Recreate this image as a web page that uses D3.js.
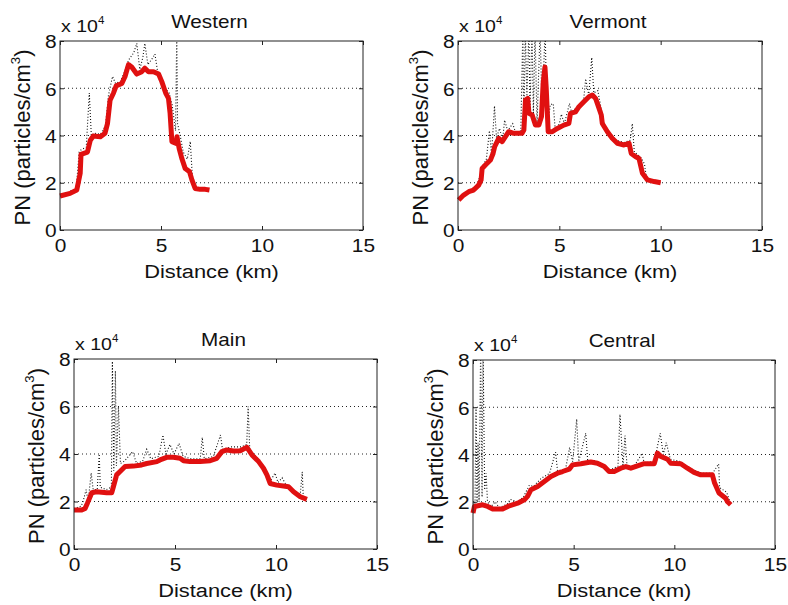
<!DOCTYPE html>
<html><head><meta charset="utf-8">
<script src="https://cdn.jsdelivr.net/npm/d3@7"></script>
<style>
html,body{margin:0;padding:0;background:#fff;}
svg text{font-family:"Liberation Sans",Arial,Helvetica,sans-serif;fill:#111;}
</style></head><body>
<svg id="chart" width="788" height="605"></svg>
<script>
// ---- Data (PN in units of 1e4 particles/cm^3, distance in km) ----
const panelTitles = ["Western", "Vermont", "Main", "Central"];
const xTicks = [0, 5, 10, 15];
const yTicks = [0, 2, 4, 6, 8];
const gridValues = [2, 4, 6];

const westernSmooth = [[0,1.44],[0.5,1.55],[0.83,1.69],[1.0,2.4],[1.04,3.2],[1.36,3.3],[1.5,3.8],[1.65,3.98],[2.0,3.95],[2.23,4.1],[2.35,4.5],[2.48,5.5],[2.65,5.8],[2.78,6.1],[3.06,6.2],[3.22,6.5],[3.39,7.0],[3.55,6.9],[3.8,6.6],[4.05,6.7],[4.2,6.85],[4.38,6.7],[4.63,6.7],[4.88,6.6],[5.04,6.28],[5.24,5.78],[5.37,5.57],[5.45,4.94],[5.54,3.74],[5.75,3.67],[5.79,3.95],[5.9,3.45],[6.03,3.03],[6.2,2.6],[6.41,2.47],[6.53,2.12],[6.69,1.76],[6.94,1.72],[7.19,1.72],[7.4,1.69]];
const westernRaw = [[0,1.45],[0.3,1.5],[0.5,1.65],[0.8,1.75],[0.95,3.3],[1.05,3.4],[1.3,3.5],[1.45,5.8],[1.55,4.0],[1.7,4.1],[2.0,4.05],[2.25,4.4],[2.4,5.7],[2.6,6.5],[2.75,6.2],[3.0,6.3],[3.2,6.7],[3.4,7.2],[3.65,7.5],[3.8,7.9],[3.95,6.8],[4.1,7.3],[4.2,7.9],[4.35,7.0],[4.6,7.3],[4.7,7.45],[4.85,6.6],[5.0,6.4],[5.2,6.0],[5.4,5.8],[5.55,5.3],[5.72,4.2],[5.78,8.3],[5.82,4.5],[5.95,4.0],[6.1,3.3],[6.3,3.0],[6.45,3.75],[6.55,2.3],[6.7,1.8],[7.0,1.75],[7.4,1.7]];

const vermontSmooth = [[0.03,1.27],[0.28,1.48],[0.53,1.62],[0.77,1.69],[1.02,1.9],[1.14,2.12],[1.19,2.6],[1.43,2.82],[1.6,2.96],[1.73,3.24],[1.81,3.53],[2.01,3.88],[2.18,3.74],[2.34,3.95],[2.5,4.16],[2.75,4.09],[3.16,4.09],[3.25,4.23],[3.33,5.5],[3.44,5.57],[3.5,4.94],[3.66,4.87],[3.82,4.44],[3.99,4.44],[4.12,4.8],[4.2,6.2],[4.29,6.9],[4.35,6.06],[4.45,4.16],[4.65,4.16],[4.9,4.3],[5.22,4.44],[5.47,4.51],[5.55,4.94],[5.8,5.0],[5.97,5.22],[6.21,5.43],[6.46,5.64],[6.63,5.71],[6.79,5.57],[6.96,5.15],[7.07,4.87],[7.12,4.51],[7.37,4.16],[7.61,3.88],[7.86,3.67],[8.19,3.6],[8.44,3.67],[8.55,3.24],[8.77,3.1],[8.93,3.03],[9.1,2.4],[9.35,2.12],[9.68,2.05],[10.0,2.0]];
const vermontRaw = [[0,1.3],[0.3,1.5],[0.6,1.7],[0.9,1.85],[1.1,2.3],[1.2,2.7],[1.4,3.0],[1.55,4.2],[1.65,3.2],[1.75,4.5],[1.8,5.25],[1.9,3.9],[2.05,4.3],[2.2,3.8],[2.3,4.65],[2.45,4.2],[2.7,4.5],[2.85,4.1],[3.1,4.2],[3.2,8.5],[3.25,4.3],[3.32,8.5],[3.4,5.6],[3.5,8.5],[3.55,5.0],[3.65,8.5],[3.72,4.9],[3.8,8.5],[3.9,4.5],[4.05,8.5],[4.15,5.0],[4.3,8.5],[4.4,4.2],[4.55,5.3],[4.7,5.35],[4.8,4.2],[5.0,4.5],[5.1,4.9],[5.25,4.5],[5.5,5.35],[5.6,5.0],[5.9,5.2],[6.2,5.5],[6.3,6.4],[6.45,5.7],[6.6,7.3],[6.7,5.8],[6.9,5.9],[7.05,5.2],[7.2,4.5],[7.5,4.1],[7.8,3.8],[8.2,3.7],[8.5,3.8],[8.6,4.5],[8.7,3.3],[9.0,3.1],[9.2,2.8],[9.3,2.2],[9.7,2.05],[10.0,2.0]];

const mainSmooth = [[0,1.64],[0.38,1.64],[0.55,1.71],[0.66,1.92],[0.88,2.37],[1.12,2.41],[1.62,2.37],[1.87,2.37],[1.95,2.62],[2.11,3.12],[2.28,3.26],[2.53,3.47],[2.94,3.49],[3.35,3.54],[3.6,3.6],[4.1,3.68],[4.26,3.75],[4.59,3.86],[4.92,3.86],[5.25,3.82],[5.42,3.72],[5.75,3.68],[6.24,3.68],[6.74,3.72],[7.07,3.82],[7.32,4.1],[7.57,4.17],[7.9,4.13],[8.23,4.14],[8.56,4.28],[8.81,3.96],[9.14,3.68],[9.38,3.4],[9.55,3.12],[9.71,2.76],[10.04,2.69],[10.37,2.65],[10.62,2.62],[10.87,2.41],[11.2,2.2],[11.53,2.09]];
const mainRaw = [[0,1.7],[0.35,1.8],[0.45,2.0],[0.6,2.5],[0.7,2.0],[0.85,3.2],[0.95,2.5],[1.15,2.5],[1.25,4.0],[1.3,2.6],[1.6,2.5],[1.85,2.6],[1.9,7.9],[1.97,3.3],[2.05,7.5],[2.1,3.5],[2.2,6.0],[2.3,3.6],[2.5,3.7],[2.9,4.1],[3.1,3.6],[3.4,3.7],[3.6,4.2],[3.8,3.8],[4.2,3.9],[4.4,4.8],[4.55,4.0],[4.75,4.4],[4.95,4.0],[5.2,4.45],[5.4,3.9],[5.8,3.8],[6.25,3.8],[6.35,4.7],[6.45,3.8],[6.9,3.9],[7.25,4.8],[7.35,4.2],[7.8,4.3],[8.3,4.3],[8.55,4.4],[8.62,6.0],[8.7,4.2],[9.1,3.8],[9.5,3.3],[9.75,2.9],[9.95,3.2],[10.1,2.8],[10.3,3.0],[10.5,2.7],[10.8,2.5],[11.2,2.3],[11.3,3.25],[11.35,2.2],[11.55,2.1]];

const centralSmooth = [[0,1.52],[0.07,1.8],[0.48,1.87],[0.73,1.8],[0.98,1.69],[1.47,1.69],[1.8,1.83],[2.22,1.94],[2.55,2.08],[2.71,2.23],[2.88,2.51],[3.21,2.65],[3.54,2.86],[3.87,3.07],[4.2,3.21],[4.45,3.28],[4.78,3.38],[4.94,3.56],[5.36,3.61],[5.85,3.68],[6.18,3.63],[6.52,3.49],[6.76,3.28],[7.01,3.28],[7.34,3.42],[7.59,3.49],[7.84,3.42],[8.17,3.52],[8.5,3.61],[9.0,3.61],[9.16,4.06],[9.33,3.92],[9.66,3.8],[9.82,3.63],[10.32,3.61],[10.65,3.42],[10.98,3.24],[11.31,3.14],[11.89,3.14],[12.0,2.79],[12.22,2.37],[12.55,2.15],[12.63,2.01],[12.8,1.87]];
const centralRaw = [[0,1.5],[0.05,2.0],[0.1,1.9],[0.15,6.0],[0.2,2.0],[0.25,4.5],[0.3,2.0],[0.38,8.5],[0.45,2.2],[0.5,8.5],[0.58,2.5],[0.65,3.2],[0.72,2.0],[0.9,1.8],[1.1,2.0],[1.3,1.75],[1.7,1.9],[1.85,2.1],[2.2,2.0],[2.5,2.2],[2.8,2.7],[3.0,2.65],[3.4,3.0],[3.8,3.2],[4.1,4.1],[4.2,3.3],[4.6,3.4],[4.8,4.3],[4.95,3.7],[5.15,5.5],[5.25,3.7],[5.6,4.9],[5.7,3.7],[6.0,3.75],[6.4,3.6],[6.8,3.35],[7.2,3.5],[7.3,5.7],[7.45,3.5],[7.55,4.8],[7.65,3.5],[8.0,3.5],[8.4,4.05],[8.5,3.65],[9.0,3.7],[9.3,4.9],[9.45,4.0],[9.6,4.5],[9.8,3.8],[10.3,3.7],[10.8,3.4],[11.4,3.2],[11.9,3.2],[12.2,3.6],[12.25,2.6],[12.6,2.4],[12.8,1.9]];

// ---- Layout ----
const panels = [
  {title: panelTitles[0], smooth: westernSmooth, raw: westernRaw, x0: 60,  x1: 363, y0: 41,  y1: 230},
  {title: panelTitles[1], smooth: vermontSmooth, raw: vermontRaw, x0: 458, x1: 762, y0: 41,  y1: 230},
  {title: panelTitles[2], smooth: mainSmooth,    raw: mainRaw,    x0: 74,  x1: 377, y0: 359, y1: 549},
  {title: panelTitles[3], smooth: centralSmooth, raw: centralRaw, x0: 473, x1: 775, y0: 360, y1: 549}
];
const SX = 1.15; // horizontal stretch of the source image text

const svg = d3.select("#chart");

panels.forEach((p, i) => {
  const x = d3.scaleLinear().domain([0, 15]).range([p.x0, p.x1]);
  const y = d3.scaleLinear().domain([0, 8]).range([p.y1, p.y0]);
  const g = svg.append("g");
  const w = p.x1 - p.x0, h = p.y1 - p.y0;

  const clipId = "clip" + i;
  svg.append("clipPath").attr("id", clipId)
    .append("rect").attr("x", p.x0).attr("y", p.y0).attr("width", w).attr("height", h);

  // grid
  g.selectAll(".grid").data(gridValues).enter().append("line")
    .attr("x1", p.x0).attr("x2", p.x1)
    .attr("y1", d => y(d)).attr("y2", d => y(d))
    .attr("stroke", "#222").attr("stroke-width", 1).attr("stroke-dasharray", "1,3");

  const line = d3.line().x(d => x(d[0])).y(d => y(d[1]));

  g.append("path").datum(p.raw).attr("d", line)
    .attr("clip-path", `url(#${clipId})`)
    .attr("fill", "none").attr("stroke", "#111").attr("stroke-width", 1.1)
    .attr("stroke-dasharray", "1,2");

  g.append("path").datum(p.smooth).attr("d", line)
    .attr("fill", "none").attr("stroke", "#e01010").attr("stroke-width", 5)
    .attr("stroke-linejoin", "round").attr("stroke-linecap", "butt");

  // box
  g.append("rect").attr("x", p.x0).attr("y", p.y0).attr("width", w).attr("height", h)
    .attr("fill", "none").attr("stroke", "#222").attr("stroke-width", 1);

  // axes (inward ticks)
  const xAxisB = d3.axisBottom(x).tickValues(xTicks).tickSizeInner(-4).tickSizeOuter(0);
  const gx = g.append("g").attr("transform", `translate(0,${p.y1})`).call(xAxisB);
  gx.select(".domain").remove();
  gx.selectAll("text").attr("font-size", 19).attr("dy", 0).attr("y", 22)
    .attr("transform", "scale(1.1,1)").attr("fill", "#111");
  gx.selectAll("line").attr("stroke", "#222");

  const xAxisT = d3.axisTop(x).tickValues(xTicks).tickSizeInner(-4).tickSizeOuter(0).tickFormat("");
  const gxt = g.append("g").attr("transform", `translate(0,${p.y0})`).call(xAxisT);
  gxt.select(".domain").remove();
  gxt.selectAll("line").attr("stroke", "#222");

  const yAxisL = d3.axisLeft(y).tickValues(yTicks).tickSizeInner(-4).tickSizeOuter(0);
  const gy = g.append("g").attr("transform", `translate(${p.x0},0)`).call(yAxisL);
  gy.select(".domain").remove();
  gy.selectAll("text").attr("font-size", 19).attr("x", -3).attr("dy", "0.36em")
    .attr("transform", "scale(1.1,1)").attr("fill", "#111");
  gy.selectAll("line").attr("stroke", "#222");

  const yAxisR = d3.axisRight(y).tickValues(yTicks).tickSizeInner(-4).tickSizeOuter(0).tickFormat("");
  const gyr = g.append("g").attr("transform", `translate(${p.x1},0)`).call(yAxisR);
  gyr.select(".domain").remove();
  gyr.selectAll("line").attr("stroke", "#222");

  // title
  g.append("text")
    .attr("transform", `translate(${(p.x0 + p.x1) / 2 - 2},${p.y0 - 13}) scale(${SX},1)`)
    .attr("text-anchor", "middle").attr("font-size", 18).text(p.title);

  // exponent label
  const ex = g.append("text")
    .attr("transform", `translate(${p.x0 + 1},${p.y0 - 9}) scale(${SX},1)`)
    .attr("font-size", 17);
  ex.append("tspan").text("x 10");
  ex.append("tspan").attr("font-size", 10).attr("dy", -8).text("4");

  // x label
  g.append("text")
    .attr("transform", `translate(${(p.x0 + p.x1) / 2},${p.y1 + 48}) scale(${SX},1)`)
    .attr("text-anchor", "middle").attr("font-size", 19).text("Distance (km)");

  // y label
  const yl = g.append("text")
    .attr("transform", `translate(${p.x0 - 30},${(p.y0 + p.y1) / 2 + 2}) rotate(-90) scale(1.1,1.12)`)
    .attr("text-anchor", "middle").attr("font-size", 20);
  yl.append("tspan").text("PN (particles/cm");
  yl.append("tspan").attr("font-size", 12).attr("dy", -9).text("3");
  yl.append("tspan").attr("dy", 9).text(")");
});
</script>
</body></html>
